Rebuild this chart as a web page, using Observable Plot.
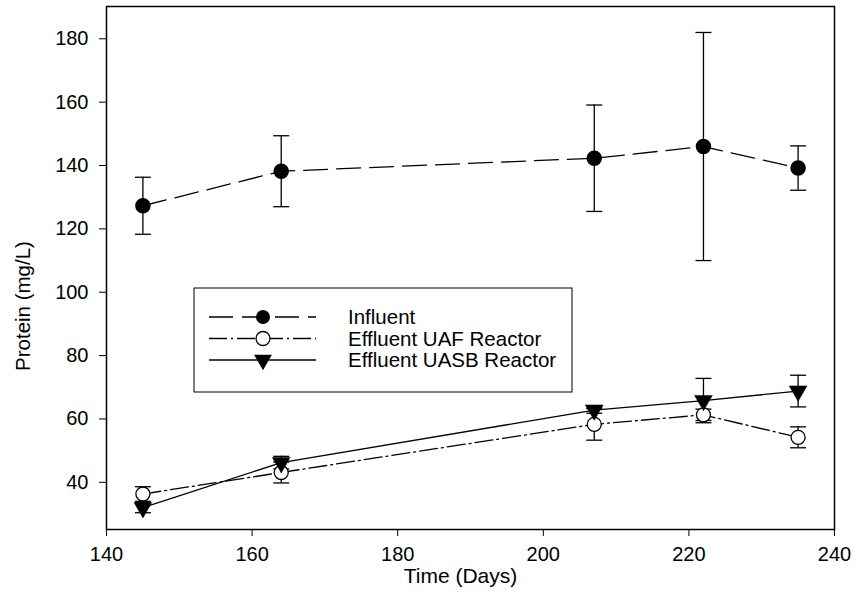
<!DOCTYPE html>
<html><head><meta charset="utf-8">
<script src="https://cdn.jsdelivr.net/npm/d3@7"></script>
<script src="https://cdn.jsdelivr.net/npm/@observablehq/plot@0.6"></script>
<style>body{margin:0;background:#fff} svg{display:block}</style>
</head><body><div id="chart"></div>
<script>
const days = [145, 164, 207, 222, 235];
const influent = [127.3, 138.2, 142.3, 146, 139.2];
const influentSD = [9, 11.2, 16.8, 36, 7];
const uaf = [36.3, 43.1, 58.3, 61.3, 54.2];
const uafSD = [2.3, 3.3, 5, 1.8, 3.3];
const uasb = [32, 46.2, 62.8, 65.8, 68.8];
const uasbSD = [1.6, 2, 1, 7, 5];
const xTicks = [140, 160, 180, 200, 220, 240];
const yTicks = [40, 60, 80, 100, 120, 140, 160, 180];
const seriesNames = ["Influent", "Effluent UAF Reactor", "Effluent UASB Reactor"];
const xLabel = "Time (Days)";
const yLabel = "Protein (mg/L)";

function rows(vals, sds) {
  return days.map((d, i) => ({x: d, y: vals[i], lo: vals[i] - sds[i], hi: vals[i] + sds[i]}));
}
const inf = rows(influent, influentSD), af = rows(uaf, uafSD), sb = rows(uasb, uasbSD);

const capSymbol = {draw(ctx, size) { const r = Math.sqrt(size / Math.PI); ctx.moveTo(-r, 0); ctx.lineTo(r, 0); }};
const SW = 1.3;
const TRI = 6.6;
function errMarks(data) {
  return [
    Plot.ruleX(data, {x: "x", y1: "lo", y2: "hi", stroke: "black", strokeWidth: SW}),
    Plot.dot(data, {x: "x", y: "lo", symbol: capSymbol, r: 8, fill: "none", stroke: "black", strokeWidth: SW}),
    Plot.dot(data, {x: "x", y: "hi", symbol: capSymbol, r: 8, fill: "none", stroke: "black", strokeWidth: SW})
  ];
}
const dashInf = "24,9";
const dashUaf = "18,4,2,4";

const plot = Plot.plot({
  width: 856, height: 599,
  marginLeft: 106, marginRight: 22, marginTop: 6, marginBottom: 70,
  x: {domain: [140, 240]},
  y: {domain: [25.1, 190.2]},
  style: {fontFamily: "'Liberation Sans', Arial, sans-serif", color: "black", background: "white"},
  marks: [
    Plot.axisX({ticks: xTicks, tickSize: 7, tickPadding: 10, fontSize: 20, label: null, tickFormat: d => String(d)}),
    Plot.axisY({ticks: yTicks, tickSize: 7, tickPadding: 11, fontSize: 20, label: null, tickFormat: d => String(d)}),
    // Influent
    Plot.line(inf, {x: "x", y: "y", stroke: "black", strokeWidth: SW, strokeDasharray: dashInf}),
    ...errMarks(inf),
    Plot.dot(inf, {x: "x", y: "y", r: 7, fill: "black", stroke: "black"}),
    // UASB
    Plot.line(sb, {x: "x", y: "y", stroke: "black", strokeWidth: SW}),
    ...errMarks(sb),
    // UAF
    Plot.line(af, {x: "x", y: "y", stroke: "black", strokeWidth: SW, strokeDasharray: dashUaf}),
    ...errMarks(af),
    Plot.dot(af, {x: "x", y: "y", r: 7, fill: "white", stroke: "black", strokeWidth: SW}),
    Plot.dot(sb, {x: "x", y: "y", r: TRI, symbol: "triangle", rotate: 180, fill: "black", stroke: "black", strokeWidth: 0.5}),
    Plot.frame({stroke: "black", strokeWidth: 1.5}),
    Plot.text([xLabel], {frameAnchor: "bottom", textAnchor: "middle", dx: -10, dy: 47, fontSize: 21, lineAnchor: "middle"}),
    Plot.text([yLabel], {frameAnchor: "left", textAnchor: "middle", rotate: -90, dx: -83, dy: 38, fontSize: 20.5, lineAnchor: "middle"})
  ]
});
document.getElementById("chart").appendChild(plot);

// Legend
const svg = d3.select(plot);
const lg = svg.append("g").attr("font-family", "'Liberation Sans', Arial, sans-serif").attr("font-size", 20.5).attr("text-anchor", "start");
lg.append("rect").attr("x", 194).attr("y", 288).attr("width", 378).attr("height", 104)
  .attr("fill", "white").attr("stroke", "black").attr("stroke-width", 1);
const rowsY = [317, 338.5, 360];
const dashes = [dashInf, dashUaf, null];
rowsY.forEach((yy, i) => {
  const ln = lg.append("line").attr("x1", 209).attr("x2", 316).attr("y1", yy).attr("y2", yy)
    .attr("stroke", "black").attr("stroke-width", SW);
  if (dashes[i]) ln.attr("stroke-dasharray", dashes[i]);
  lg.append("text").attr("x", 348).attr("y", yy).attr("dy", "0.35em").attr("fill", "black").text(seriesNames[i]);
});
lg.append("circle").attr("cx", 263).attr("cy", rowsY[0]).attr("r", 7).attr("fill", "black");
lg.append("circle").attr("cx", 263).attr("cy", rowsY[1]).attr("r", 7).attr("fill", "white").attr("stroke", "black").attr("stroke-width", SW);
lg.append("path").attr("transform", `translate(263,${rowsY[2]}) rotate(180)`)
  .attr("d", d3.symbol(d3.symbolTriangle, Math.PI * TRI * TRI)()).attr("fill", "black");
</script>
</body></html>
